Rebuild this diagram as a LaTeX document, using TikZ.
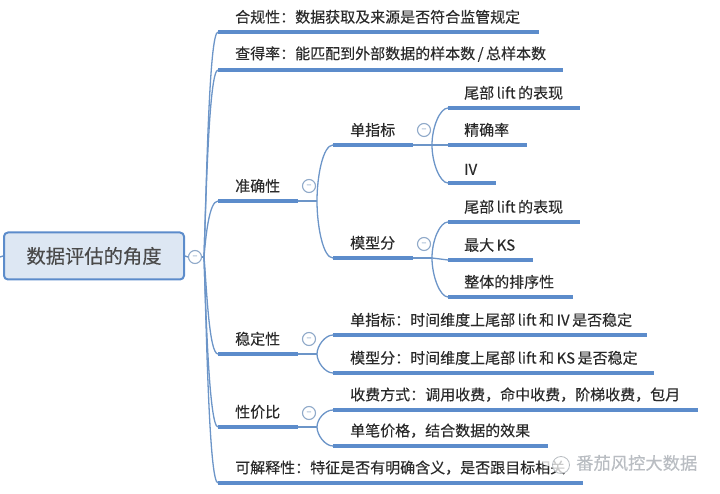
\documentclass[tikz,border=0pt]{standalone}
\usepackage{fontspec}
\setmainfont[FakeBold=0.25]{Noto Sans CJK SC}
\usetikzlibrary{positioning,calc}
\definecolor{Ink}{HTML}{2A2A2A}
\definecolor{Stem}{HTML}{6C95C8}
\definecolor{Thick}{HTML}{5C8CCB}
\definecolor{Pale}{HTML}{DDE7F3}
\definecolor{Fold}{HTML}{8FA9C9}
\definecolor{Stamp}{HTML}{B9BDC2}
\tikzset{
  root/.style={draw=Thick,line width=2pt,rounded corners=4pt,fill=Pale,text=Ink!85,minimum width=180pt,minimum height=47pt,inner sep=0pt,font=\fontsize{19.3}{22}\selectfont},
  bar/.style={fill=Thick,inner sep=0pt,minimum height=4pt,anchor=west},
  lbl/.style={inner sep=0pt,text=Ink,font=\fontsize{15}{16}\selectfont},
  fold/.style={circle,draw=Fold,line width=1.1pt,fill=white,inner sep=0pt,minimum size=13pt,text=Fold,font=\fontsize{9}{9}\selectfont},
  link/.style={draw=Stem,line width=1.3pt},
  stamp/.style={inner sep=0pt,text=Stamp,font=\fontsize{17.3}{19}\selectfont},
}
\begin{document}
\begin{tikzpicture}[x=1pt,y=-1pt]
\useasboundingbox (0,0) rectangle (720,494);
\node[root] (data) at (94,256) {数据评估的角度};
\node[fold] (f0) at (195,257) {--};
\coordinate (edge) at (0,257);
\coordinate (j0) at (204,257);
% first level
\node[bar,minimum width=321pt] (legal) at (218,32) {};
\node[bar,minimum width=345pt] (match) at (218,70) {};
\node[bar,minimum width=80pt] (acc) at (218,201) {};
\node[bar,minimum width=80pt] (stable) at (218,354) {};
\node[bar,minimum width=80pt] (cost) at (218,427) {};
\node[bar,minimum width=365pt] (expl) at (218,483) {};
\node[lbl,above right=8pt and 17pt of legal.west] (legalt) {合规性：数据获取及来源是否符合监管规定};
\node[lbl,above right=8pt and 17pt of match.west] (matcht) {查得率：能匹配到外部数据的样本数\,/\,总样本数};
\node[lbl,above right=8pt and 17pt of acc.west] (acct) {准确性};
\node[lbl,above right=8pt and 17pt of stable.west] (stablet) {稳定性};
\node[lbl,above right=8pt and 17pt of cost.west] (costt) {性价比};
\node[lbl,above right=8pt and 17pt of expl.west] (explt) {可解释性：特征是否有明确含义，是否跟目标相关};
% second level
\node[bar,minimum width=80pt] (single) at (333,145) {};
\node[bar,minimum width=80pt] (model) at (333,258) {};
\node[bar,minimum width=314pt] (s1) at (333,335) {};
\node[bar,minimum width=321pt] (s2) at (333,373) {};
\node[bar,minimum width=365pt] (c1) at (333,410) {};
\node[bar,minimum width=215pt] (c2) at (333,446) {};
\node[lbl,above right=8pt and 17pt of single.west] (singlet) {单指标};
\node[lbl,above right=8pt and 17pt of model.west] (modelt) {模型分};
\node[lbl,above right=8pt and 17pt of s1.west] (s1t) {单指标：时间维度上尾部\,lift\,和\,IV\,是否稳定};
\node[lbl,above right=8pt and 17pt of s2.west] (s2t) {模型分：时间维度上尾部\,lift\,和\,KS\,是否稳定};
\node[lbl,above right=8pt and 17pt of c1.west] (c1t) {收费方式：调用收费，命中收费，阶梯收费，包月};
\node[lbl,above right=8pt and 17pt of c2.west] (c2t) {单笔价格，结合数据的效果};
% leaves
\node[bar,minimum width=132pt] (a1) at (448,108) {};
\node[bar,minimum width=79pt] (a2) at (448,145) {};
\node[bar,minimum width=48pt] (a3) at (448,183) {};
\node[bar,minimum width=132pt] (b1) at (448,222) {};
\node[bar,minimum width=85pt] (b2) at (448,260) {};
\node[bar,minimum width=125pt] (b3) at (448,297) {};
\node[lbl,above right=8pt and 16pt of a1.west] (a1t) {尾部\,lift\,的表现};
\node[lbl,above right=8pt and 16pt of a2.west] (a2t) {精确率};
\node[lbl,above right=8pt and 16pt of a3.west] (a3t) {IV};
\node[lbl,above right=8pt and 16pt of b1.west] (b1t) {尾部\,lift\,的表现};
\node[lbl,above right=8pt and 16pt of b2.west] (b2t) {最大\,KS};
\node[lbl,above right=8pt and 16pt of b3.west] (b3t) {整体的排序性};
% folds and forks
\node[fold] (f1) at (309,186) {--};
\node[fold] (f2) at (309,339) {--};
\node[fold] (f3) at (309,413) {--};
\node[fold] (f4) at (424,130) {--};
\node[fold] (f5) at (424,244) {--};
\coordinate (j1) at (317,201);
\coordinate (j2) at (317,354);
\coordinate (j3) at (317,427);
\coordinate (j4) at (432,145);
\coordinate (j5) at (432,258);
% connectors
\draw[link] (edge)--(data.west);
\draw[link] (data.east)--(f0.west);
\draw[link] (f0.east)--(j0);
\draw[link] (j0) to[out=88,in=180,out distance=70pt,in distance=9pt] (legal.west);
\draw[link] (j0) to[out=88,in=180,out distance=60pt,in distance=9pt] (match.west);
\draw[link] (j0) to[out=85,in=180,out distance=20pt,in distance=9pt] (acc.west);
\draw[link] (j0) to[out=-85,in=180,out distance=30pt,in distance=9pt] (stable.west);
\draw[link] (j0) to[out=-88,in=180,out distance=50pt,in distance=9pt] (cost.west);
\draw[link] (j0) to[out=-88,in=180,out distance=70pt,in distance=9pt] (expl.west);
\draw[link] (acc.east)--(j1);
\draw[link] (stable.east)--(j2);
\draw[link] (cost.east)--(j3);
\draw[link] (single.east)--(j4);
\draw[link] (model.east)--(j5);
\draw[link] (j1) to[out=90,in=180,out distance=25pt,in distance=10pt] (single.west);
\draw[link] (j1) to[out=-90,in=180,out distance=25pt,in distance=10pt] (model.west);
\draw[link] (j2) to[out=90,in=180,out distance=8pt,in distance=8pt] (s1.west);
\draw[link] (j2) to[out=-90,in=180,out distance=8pt,in distance=8pt] (s2.west);
\draw[link] (j3) to[out=90,in=180,out distance=8pt,in distance=8pt] (c1.west);
\draw[link] (j3) to[out=-90,in=180,out distance=8pt,in distance=8pt] (c2.west);
\draw[link] (j4) to[out=90,in=180,out distance=18pt,in distance=8pt] (a1.west);
\draw[link] (j4)--(a2.west);
\draw[link] (j4) to[out=-90,in=180,out distance=18pt,in distance=8pt] (a3.west);
\draw[link] (j5) to[out=90,in=180,out distance=18pt,in distance=8pt] (b1.west);
\draw[link] (j5)--(b2.west);
\draw[link] (j5) to[out=-90,in=180,out distance=18pt,in distance=8pt] (b3.west);
% watermark
\node[stamp,anchor=west] (wm) at (576,463) {番茄风控大数据};
\fill[white,opacity=.8] (548,460) circle (6pt);
\draw[Stamp,line width=.8pt,fill=white,fill opacity=.75] (561,465) circle (8.5pt);
\end{tikzpicture}
\end{document}
